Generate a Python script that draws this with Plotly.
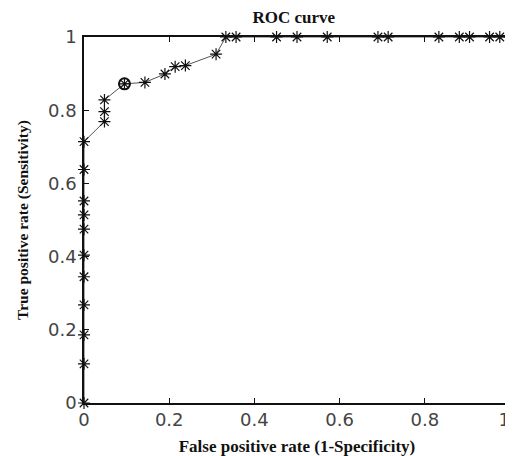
import plotly.graph_objects as go

# ROC curve points (false positive rate, true positive rate)
fpr = [0, 0, 0, 0, 0, 0, 0, 0, 0, 0, 0,
       0.048, 0.048, 0.048, 0.095, 0.143, 0.190, 0.214, 0.238, 0.310,
       0.333, 0.357, 0.452, 0.500, 0.571, 0.690, 0.714, 0.833, 0.881,
       0.905, 0.952, 0.976, 1.0]
tpr = [0, 0.107, 0.186, 0.268, 0.345, 0.404, 0.475, 0.514, 0.552, 0.638, 0.714,
       0.769, 0.796, 0.828, 0.872, 0.876, 0.899, 0.919, 0.922, 0.953,
       1.0, 1.0, 1.0, 1.0, 1.0, 1.0, 1.0, 1.0, 1.0,
       1.0, 1.0, 1.0, 1.0]

# optimal operating point
opt_fpr = [0.095]
opt_tpr = [0.872]

x_ticks = [0, 0.2, 0.4, 0.6, 0.8, 1]
y_ticks = [0, 0.2, 0.4, 0.6, 0.8, 1]
x_tick_text = ["0", "0.2", "0.4", "0.6", "0.8", "1\u00a0\u00a0"]
y_tick_text = ["0", "0.2", "0.4", "0.6", "0.8", "1"]

fig = go.Figure()
fig.add_trace(go.Scatter(
    x=fpr, y=tpr, mode="lines+markers",
    line=dict(color="#555555", width=1),
    marker=dict(symbol="asterisk-open", size=10, color="#111111",
                line=dict(color="#111111", width=1.2)),
    cliponaxis=False, showlegend=False))
fig.add_trace(go.Scatter(
    x=opt_fpr, y=opt_tpr, mode="markers",
    marker=dict(symbol="circle-open-dot", size=11, color="#111111",
                line=dict(color="#111111", width=2)),
    cliponaxis=False, showlegend=False))

axis_common = dict(
    showgrid=False, zeroline=False, showline=True, linecolor="#111111",
    linewidth=1.5, mirror="ticks", ticks="inside", ticklen=5,
    tickcolor="#111111", tickwidth=1, automargin=False,
    ticklabeloverflow="allow",
    tickfont=dict(family="DejaVu Sans", size=18, color="#444444"),
)

serif = "Liberation Serif, Times New Roman"

# the page body adds an 8px offset, so the figure is 8px smaller
fig.update_layout(
    width=505, height=448,
    margin=dict(l=76, r=3, t=29, b=53),
    paper_bgcolor="white", plot_bgcolor="white",
    title=dict(text="<b>ROC curve</b>", x=0.566, xanchor="center", y=0.98, yanchor="middle",
               font=dict(family=serif, size=17, color="#111111")),
    xaxis=dict(range=[0, 1], tickvals=x_ticks, ticktext=x_tick_text,
               title=dict(text="<b>False positive rate (1-Specificity)</b>", standoff=12,
                          font=dict(family=serif, size=17, color="#111111")),
               **axis_common),
    yaxis=dict(range=[0, 1], tickvals=y_ticks, ticktext=y_tick_text,
               title=dict(text="<b>True positive rate (Sensitivity)</b>", standoff=16,
                          font=dict(family=serif, size=15.5, color="#111111")),
               ticklabelstandoff=2,
               **axis_common),
)

fig.write_html("out.html")
